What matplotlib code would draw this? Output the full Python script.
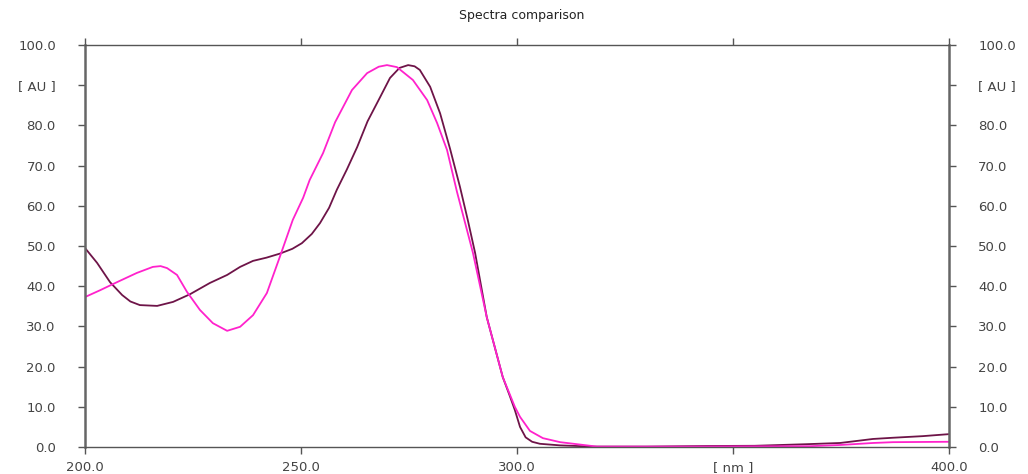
import matplotlib
matplotlib.use("Agg")
import matplotlib.pyplot as plt

# Series 1 (dark maroon)
wl_dark = [200, 202.8, 205.8, 208.6, 210.5, 212.7, 216.7, 220.4, 224.3, 228.9, 232.9, 235.9,
           238.9, 242, 245.1, 248, 250.2, 252.5, 254.4, 256.5, 258.3, 260.6, 263, 265.4,
           268.3, 270.6, 272.8, 274.8, 276.3, 277.5, 279.9, 282.2, 284.5, 286.8, 288.6, 290.3, 293,
           296.7, 298.3, 299.5, 300.7, 302, 303.5, 305.3, 310, 317.6, 330, 344, 355, 367, 374.8,
           382.4, 387, 393.9, 400]
au_dark = [49.5, 45.8, 41, 37.8, 36.2, 35.3, 35.1, 36.1, 38, 40.8, 42.8, 44.8,
           46.3, 47.1, 48.1, 49.3, 50.7, 53, 55.7, 59.5, 64, 69, 74.6, 81,
           87, 91.8, 94.3, 95, 94.7, 93.8, 89.6, 83, 74.2, 64.7, 56.5, 48.3, 32.3,
           17.4, 12.8, 9.2, 5.0, 2.4, 1.3, 0.8, 0.4, 0.1, 0.1, 0.25, 0.3, 0.7, 1,
           2, 2.3, 2.7, 3.2]

# Series 2 (magenta)
wl_mag = [200, 203.5, 207.4, 212, 215.7, 217.5, 219, 221.3, 223.6, 226.6, 229.6, 232.9, 235.9,
          238.9, 242.1, 245.1, 248.1, 250.5, 252, 255.1, 257.9, 261.8, 265.3, 268, 269.9,
          272.2, 275.9, 279.2, 281.5, 283.8, 286.1, 289.8, 293, 296.7, 299.5, 300.7, 303,
          306, 310, 318.5, 340, 367.8, 374.8, 382.4, 387, 400]
au_mag = [37.3, 39, 41, 43.3, 44.8, 45, 44.5, 42.8, 38.6, 34.1, 30.8, 28.9, 29.9,
          32.8, 38.3, 47.3, 56.5, 62, 66.4, 73.1, 80.8, 88.8, 93, 94.6, 95,
          94.5, 91.3, 86.3, 80.6, 73.9, 63.5, 48.3, 32.3, 17.4, 10, 7.5, 4,
          2.2, 1.2, 0.1, 0.1, 0.2, 0.5, 1, 1.2, 1.3]

x_ticks = [200, 250, 300, 350, 400]
x_labels = ["200.0", "250.0", "300.0", "[ nm ]", "400.0"]
y_ticks = [0, 10, 20, 30, 40, 50, 60, 70, 80, 90, 100]
y_labels = ["0.0", "10.0", "20.0", "30.0", "40.0", "50.0", "60.0", "70.0", "80.0", "[ AU ]", "100.0"]
title = "Spectra comparison"

fig = plt.figure(figsize=(10.28, 4.74), dpi=100)
ax = fig.add_axes([85/1028, 27/474, 864/1028, 402/474])

ax.plot(wl_dark, au_dark, color="#6e1448", lw=1.3)
ax.plot(wl_mag, au_mag, color="#ff22cc", lw=1.3)

ax.set_xlim(200, 400)
ax.set_ylim(0, 100)

tick_col = "#444444"
ax.set_xticks(x_ticks)
ax.set_xticklabels(x_labels)
ax.set_yticks(y_ticks)
ax.set_yticklabels(y_labels)
ax.tick_params(axis="both", direction="out", length=5, width=1, color="#555555",
               labelcolor=tick_col, labelsize=9.5)
ax.tick_params(axis="y", left=True, right=True, labelleft=True, labelright=True, pad=16)
ax.tick_params(axis="x", bottom=True, top=True, labelbottom=True, labeltop=False, pad=5)

for s in ["left", "right"]:
    ax.spines[s].set_color("#666666")
    ax.spines[s].set_linewidth(1.8)
for s in ["top", "bottom"]:
    ax.spines[s].set_color("#555555")
    ax.spines[s].set_linewidth(1.0)

fig.text(522/1028, 1 - 15/474, title, ha="center", va="center", fontsize=9, color="#222222")

fig.savefig("out.png", dpi=100)
